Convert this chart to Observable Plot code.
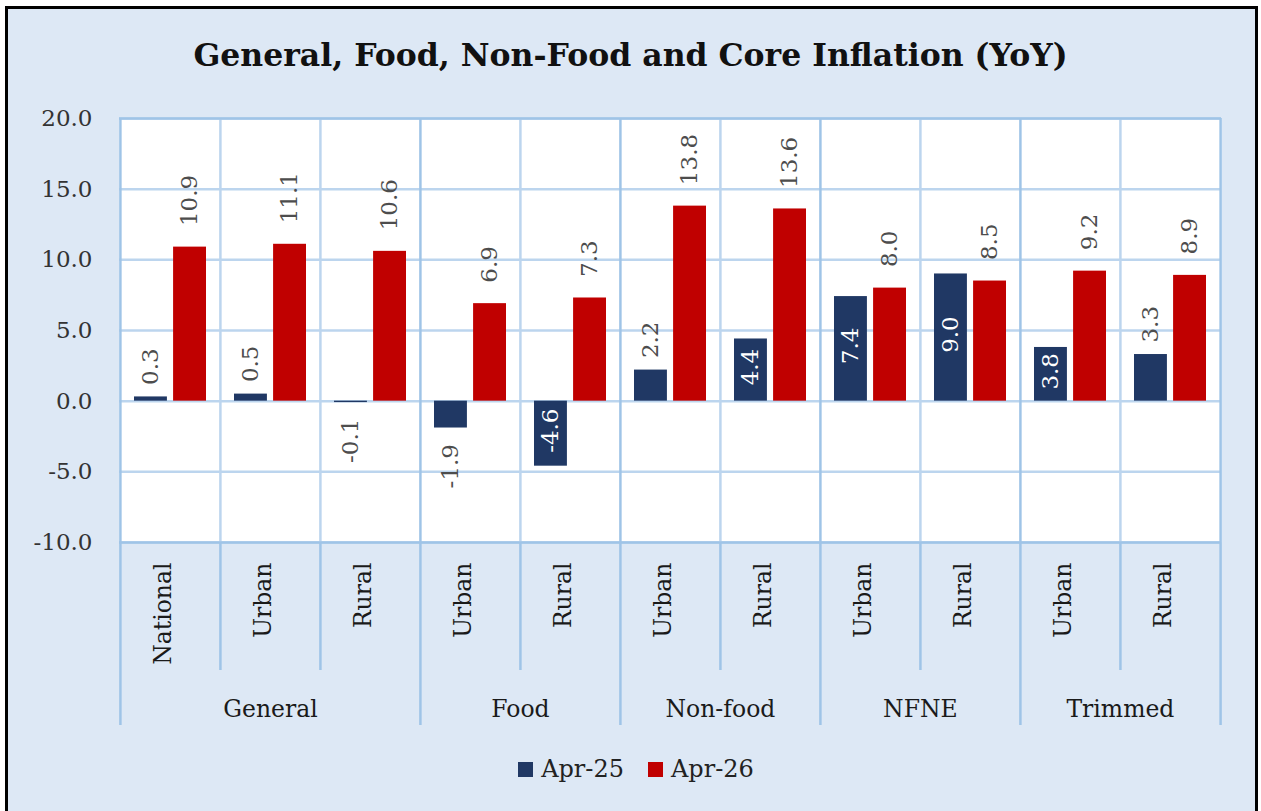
<!DOCTYPE html>
<html>
<head>
<meta charset="utf-8">
<script src="https://cdn.jsdelivr.net/npm/d3@7"></script>
<script src="https://cdn.jsdelivr.net/npm/@observablehq/plot@0.6"></script>
<style>
  html, body { margin: 0; padding: 0; width: 1261px; height: 811px; overflow: hidden; background: #ffffff; }
  #frame { position: absolute; left: 5px; top: 6px; width: 1247px; height: 820px; border: 3px solid #000; background: #dde8f5; }
  #title { position: absolute; left: 0; top: 36px; width: 1261px; text-align: center; font-family: "DejaVu Serif"; font-weight: bold; font-size: 31.5px; color: #111; white-space: nowrap; }
  #chart { position: absolute; left: 0; top: 90px; }
  #legend { position: absolute; left: 0; top: 755px; width: 1272px; display: flex; justify-content: center; align-items: center; font-family: "DejaVu Serif"; font-size: 24px; color: #222; }
  .item { display: flex; align-items: center; margin: 0 12px; }
  .sw { width: 15px; height: 15px; margin-right: 8px; }
</style>
</head>
<body>
<div id="frame"></div>
<div id="title">General, Food, Non-Food and Core Inflation (YoY)</div>
<div id="chart"></div>
<div id="legend"></div>
<script>
// ---- data ----
const groups = ["General","General","General","Food","Food","Non-food","Non-food","NFNE","NFNE","Trimmed","Trimmed"];
const areas  = ["National","Urban","Rural","Urban","Rural","Urban","Rural","Urban","Rural","Urban","Rural"];
const apr25  = [0.3, 0.5, -0.1, -1.9, -4.6, 2.2, 4.4, 7.4, 9.0, 3.8, 3.3];
const apr26  = [10.9, 11.1, 10.6, 6.9, 7.3, 13.8, 13.6, 8.0, 8.5, 9.2, 8.9];
const series = ["Apr-25", "Apr-26"];
const seriesColors = ["#203864", "#c00000"];
const yTicks = [-10, -5, 0, 5, 10, 15, 20];

// ---- derived tables ----
const keys = groups.map((g, i) => g + "|" + areas[i]);
const rows = [];
keys.forEach((k, i) => {
  rows.push({key: k, series: series[0], value: apr25[i]});
  rows.push({key: k, series: series[1], value: apr26[i]});
});
const groupInfo = [];
groups.forEach((g, i) => {
  const last = groupInfo[groupInfo.length - 1];
  if (last && last.name === g) { last.keys.push(keys[i]); }
  else groupInfo.push({name: g, keys: [keys[i]]});
});
const groupStarts = new Set(groupInfo.map(d => d.keys[0]));

// ---- layout ----
const W = 1261, H = 660, mL = 119, mR = 40, mT = 28, mB = 208;
const plotH = H - mT - mB;
const step = (W - mL - mR) / keys.length;
const outerInset = 14, halfGap = 3;
const barCenterOffset = ((outerInset + step / 2 - halfGap) / 2) - step / 2;
const gridC = "#bcd5ee", sepC = "#9fc4e7";

const isInside = d => d.series === series[0] && Math.abs(d.value) >= 3.5;
const labelRows = rows.map(d => ({...d, inside: isInside(d)}));
const fmt = v => v.toFixed(1);

function valueText(filterFn, opts) {
  return Plot.text(labelRows.filter(filterFn), {
    x: "key", text: d => fmt(d.value), rotate: -90,
    fontSize: 23, ...opts
  });
}

const chart = Plot.plot({
  width: W, height: H,
  marginLeft: mL, marginRight: mR, marginTop: mT, marginBottom: mB,
  style: {background: "transparent", fontFamily: "DejaVu Serif", fontSize: "23px", color: "#333", overflow: "visible"},
  x: {domain: keys, padding: 0, axis: null},
  y: {domain: [-10, 20], ticks: yTicks, tickFormat: d => d.toFixed(1), tickSize: 0, tickPadding: 27, label: null},
  marks: [
    Plot.frame({fill: "white"}),
    Plot.ruleY(yTicks, {stroke: gridC, strokeWidth: 2.5}),
    Plot.ruleX(keys.filter(k => !groupStarts.has(k)), {x: d => d, dx: -step / 2, stroke: gridC, strokeWidth: 2.5}),
    Plot.ruleX(keys.filter(k => !groupStarts.has(k)), {x: d => d, dx: -step / 2, stroke: sepC, strokeWidth: 2.5, insetTop: plotH, insetBottom: -128}),
    Plot.ruleX(keys.filter(k => groupStarts.has(k)), {x: d => d, dx: -step / 2, stroke: sepC, strokeWidth: 2.5, insetBottom: -183}),
    Plot.ruleX(keys.slice(-1), {x: d => d, dx: step / 2, stroke: sepC, strokeWidth: 2.5, insetBottom: -183}),
    Plot.ruleY([20, -10], {stroke: sepC, strokeWidth: 2.5}),
    // bars
    Plot.barY(rows.filter(d => d.series === series[0]), {x: "key", y: "value", fill: seriesColors[0], insetLeft: outerInset, insetRight: step / 2 + halfGap}),
    Plot.barY(rows.filter(d => d.series === series[1]), {x: "key", y: "value", fill: seriesColors[1], insetLeft: step / 2 + halfGap, insetRight: outerInset}),
    // value labels
    valueText(d => !d.inside && d.series === series[1] && d.value >= 0, {y: "value", textAnchor: "start", dx: -barCenterOffset, dy: -21, fill: "#4d4d4d"}),
    valueText(d => !d.inside && d.series === series[0] && d.value >= 0, {y: "value", textAnchor: "start", dx: barCenterOffset, dy: -12, fill: "#4d4d4d"}),
    valueText(d => !d.inside && d.value < 0, {y: "value", textAnchor: "end", dx: barCenterOffset, dy: 16, fill: "#4d4d4d"}),
    valueText(d => d.inside, {y: d => d.value / 2, textAnchor: "middle", dx: barCenterOffset, dy: -3, fill: "white"}),
    // category labels
    Plot.text(keys, {x: d => d, text: (d, i) => areas[i], frameAnchor: "bottom", rotate: -90, textAnchor: "end", dy: 20, fill: "#1a1a1a", fontSize: 23.5}),
    // group labels
    Plot.text(groupInfo.filter(d => d.keys.length % 2 === 1), {x: d => d.keys[(d.keys.length - 1) / 2], text: "name", frameAnchor: "bottom", dy: 174, fill: "#1a1a1a", fontSize: 23.5}),
    Plot.text(groupInfo.filter(d => d.keys.length % 2 === 0), {x: d => d.keys[d.keys.length / 2], text: "name", frameAnchor: "bottom", dx: -step / 2, dy: 174, fill: "#1a1a1a", fontSize: 23.5})
  ]
});
document.getElementById("chart").appendChild(chart);

// legend
const legend = document.getElementById("legend");
series.forEach((s, i) => {
  const item = document.createElement("div");
  item.className = "item";
  const sw = document.createElement("div");
  sw.className = "sw";
  sw.style.background = seriesColors[i];
  const lab = document.createElement("span");
  lab.textContent = s;
  item.appendChild(sw); item.appendChild(lab);
  legend.appendChild(item);
});
</script>
</body>
</html>
